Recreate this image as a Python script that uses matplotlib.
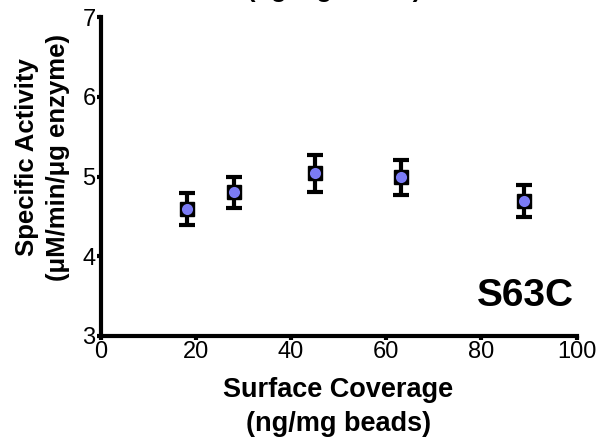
import matplotlib
matplotlib.use("Agg")
from matplotlib import pyplot as plt

plt.rcParams['font.family'] = ['Liberation Sans', 'DejaVu Sans']

# surface coverage (ng/mg beads) vs specific activity, S63C mutant
coverage = [18.1, 28.1, 45.0, 63.1, 89.0]
activity = [4.59, 4.80, 5.04, 4.99, 4.69]
err = [0.20, 0.20, 0.23, 0.22, 0.20]

fig = plt.figure(figsize=(6, 4.38), dpi=100)
ax = fig.add_axes([100.5/600, 1 - 336/438, 476/600, 319/438])

ax.errorbar(coverage, activity, yerr=err, fmt='none', ecolor='black',
            elinewidth=3, capsize=5.5, capthick=3, zorder=2)
ax.plot(coverage, activity, 's', color='black', markersize=10, zorder=3)
ax.plot(coverage, activity, 'o', color='#7b7bf5', markersize=8,
        markeredgewidth=0, zorder=4)

ax.set_xlim(0, 100)
ax.set_ylim(3, 7)
ax.set_xticks([0, 20, 40, 60, 80, 100])
ax.set_yticks([3, 4, 5, 6, 7])

for side in ['top', 'right']:
    ax.spines[side].set_visible(False)
for side in ['left', 'bottom']:
    ax.spines[side].set_linewidth(3)
ax.tick_params(width=3, length=3, labelsize=17, pad=0.5)
for lab in ax.get_xticklabels() + ax.get_yticklabels():
    lab.set_clip_on(False)

ax.set_xlabel("Surface Coverage\n(ng/mg beads)", fontsize=19.5, fontweight='bold',
              linespacing=1.4, labelpad=10)
ax.set_ylabel("Specific Activity\n(\u03bcM/min/\u03bcg enzyme)", fontsize=18.5,
              fontweight='bold', linespacing=1.35)
ax.yaxis.set_label_coords(-0.065, 0.56)

ax.text(0.995, 0.125, "S63C", transform=ax.transAxes, ha='right', va='center',
        fontsize=28, fontweight='bold', clip_on=False)

# x label of the panel above, cut off by the frame
fig.text(0.5575, 1 - 2.5/438, "(ng/mg beads)", ha='center', va='bottom',
         fontsize=18.4, fontweight='bold')

fig.savefig("out.png", dpi=100)
